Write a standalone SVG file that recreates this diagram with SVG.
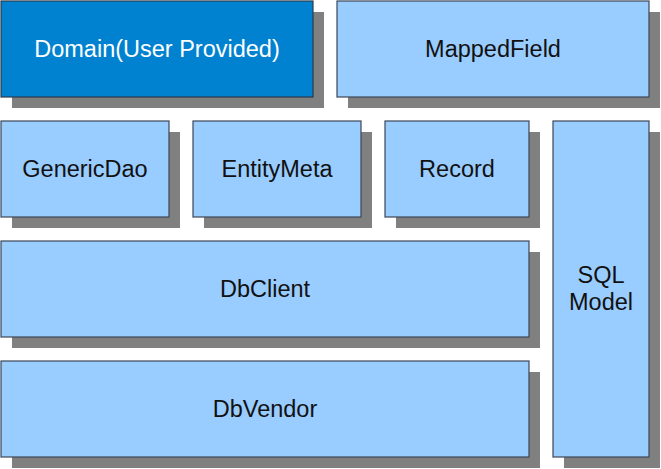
<svg xmlns="http://www.w3.org/2000/svg" width="661" height="469" viewBox="0 0 661 469">
<style>
.sh{fill:#808080}
.bx{fill:#99ccff;stroke:#3b4757;stroke-width:1.2}
.dm{fill:#0082d0;stroke:#2a3a4c;stroke-width:1.2}
text{font-family:"Liberation Sans",Arial,sans-serif;font-size:23.5px;text-anchor:middle;fill:#111}
.w{fill:#fff}
</style>
<rect width="661" height="469" fill="#fff"/>
<g id="domain"><rect class="sh" x="12" y="12" width="312" height="96"/><rect class="dm" x="1" y="1" width="312" height="96"/><text class="w" x="157" y="57">Domain(User Provided)</text></g>
<g id="mappedfield"><rect class="sh" x="348" y="12" width="312" height="96"/><rect class="bx" x="337" y="1" width="312" height="96"/><text x="493" y="57">MappedField</text></g>
<g id="genericdao"><rect class="sh" x="12" y="132" width="168" height="96"/><rect class="bx" x="1" y="121" width="168" height="96"/><text x="85" y="177">GenericDao</text></g>
<g id="entitymeta"><rect class="sh" x="204" y="132" width="168" height="96"/><rect class="bx" x="193" y="121" width="168" height="96"/><text x="277" y="177">EntityMeta</text></g>
<g id="record"><rect class="sh" x="396" y="132" width="144" height="96"/><rect class="bx" x="385" y="121" width="144" height="96"/><text x="457" y="177">Record</text></g>
<g id="sqlmodel"><rect class="sh" x="564" y="132" width="96" height="336"/><rect class="bx" x="553" y="121" width="96" height="336"/><text x="601" y="283">SQL</text><text x="601" y="310">Model</text></g>
<g id="dbclient"><rect class="sh" x="12" y="252" width="528" height="96"/><rect class="bx" x="1" y="241" width="528" height="96"/><text x="265" y="297">DbClient</text></g>
<g id="dbvendor"><rect class="sh" x="12" y="372" width="528" height="96"/><rect class="bx" x="1" y="361" width="528" height="96"/><text x="265" y="417">DbVendor</text></g>
<g id="connectors"/>
</svg>
